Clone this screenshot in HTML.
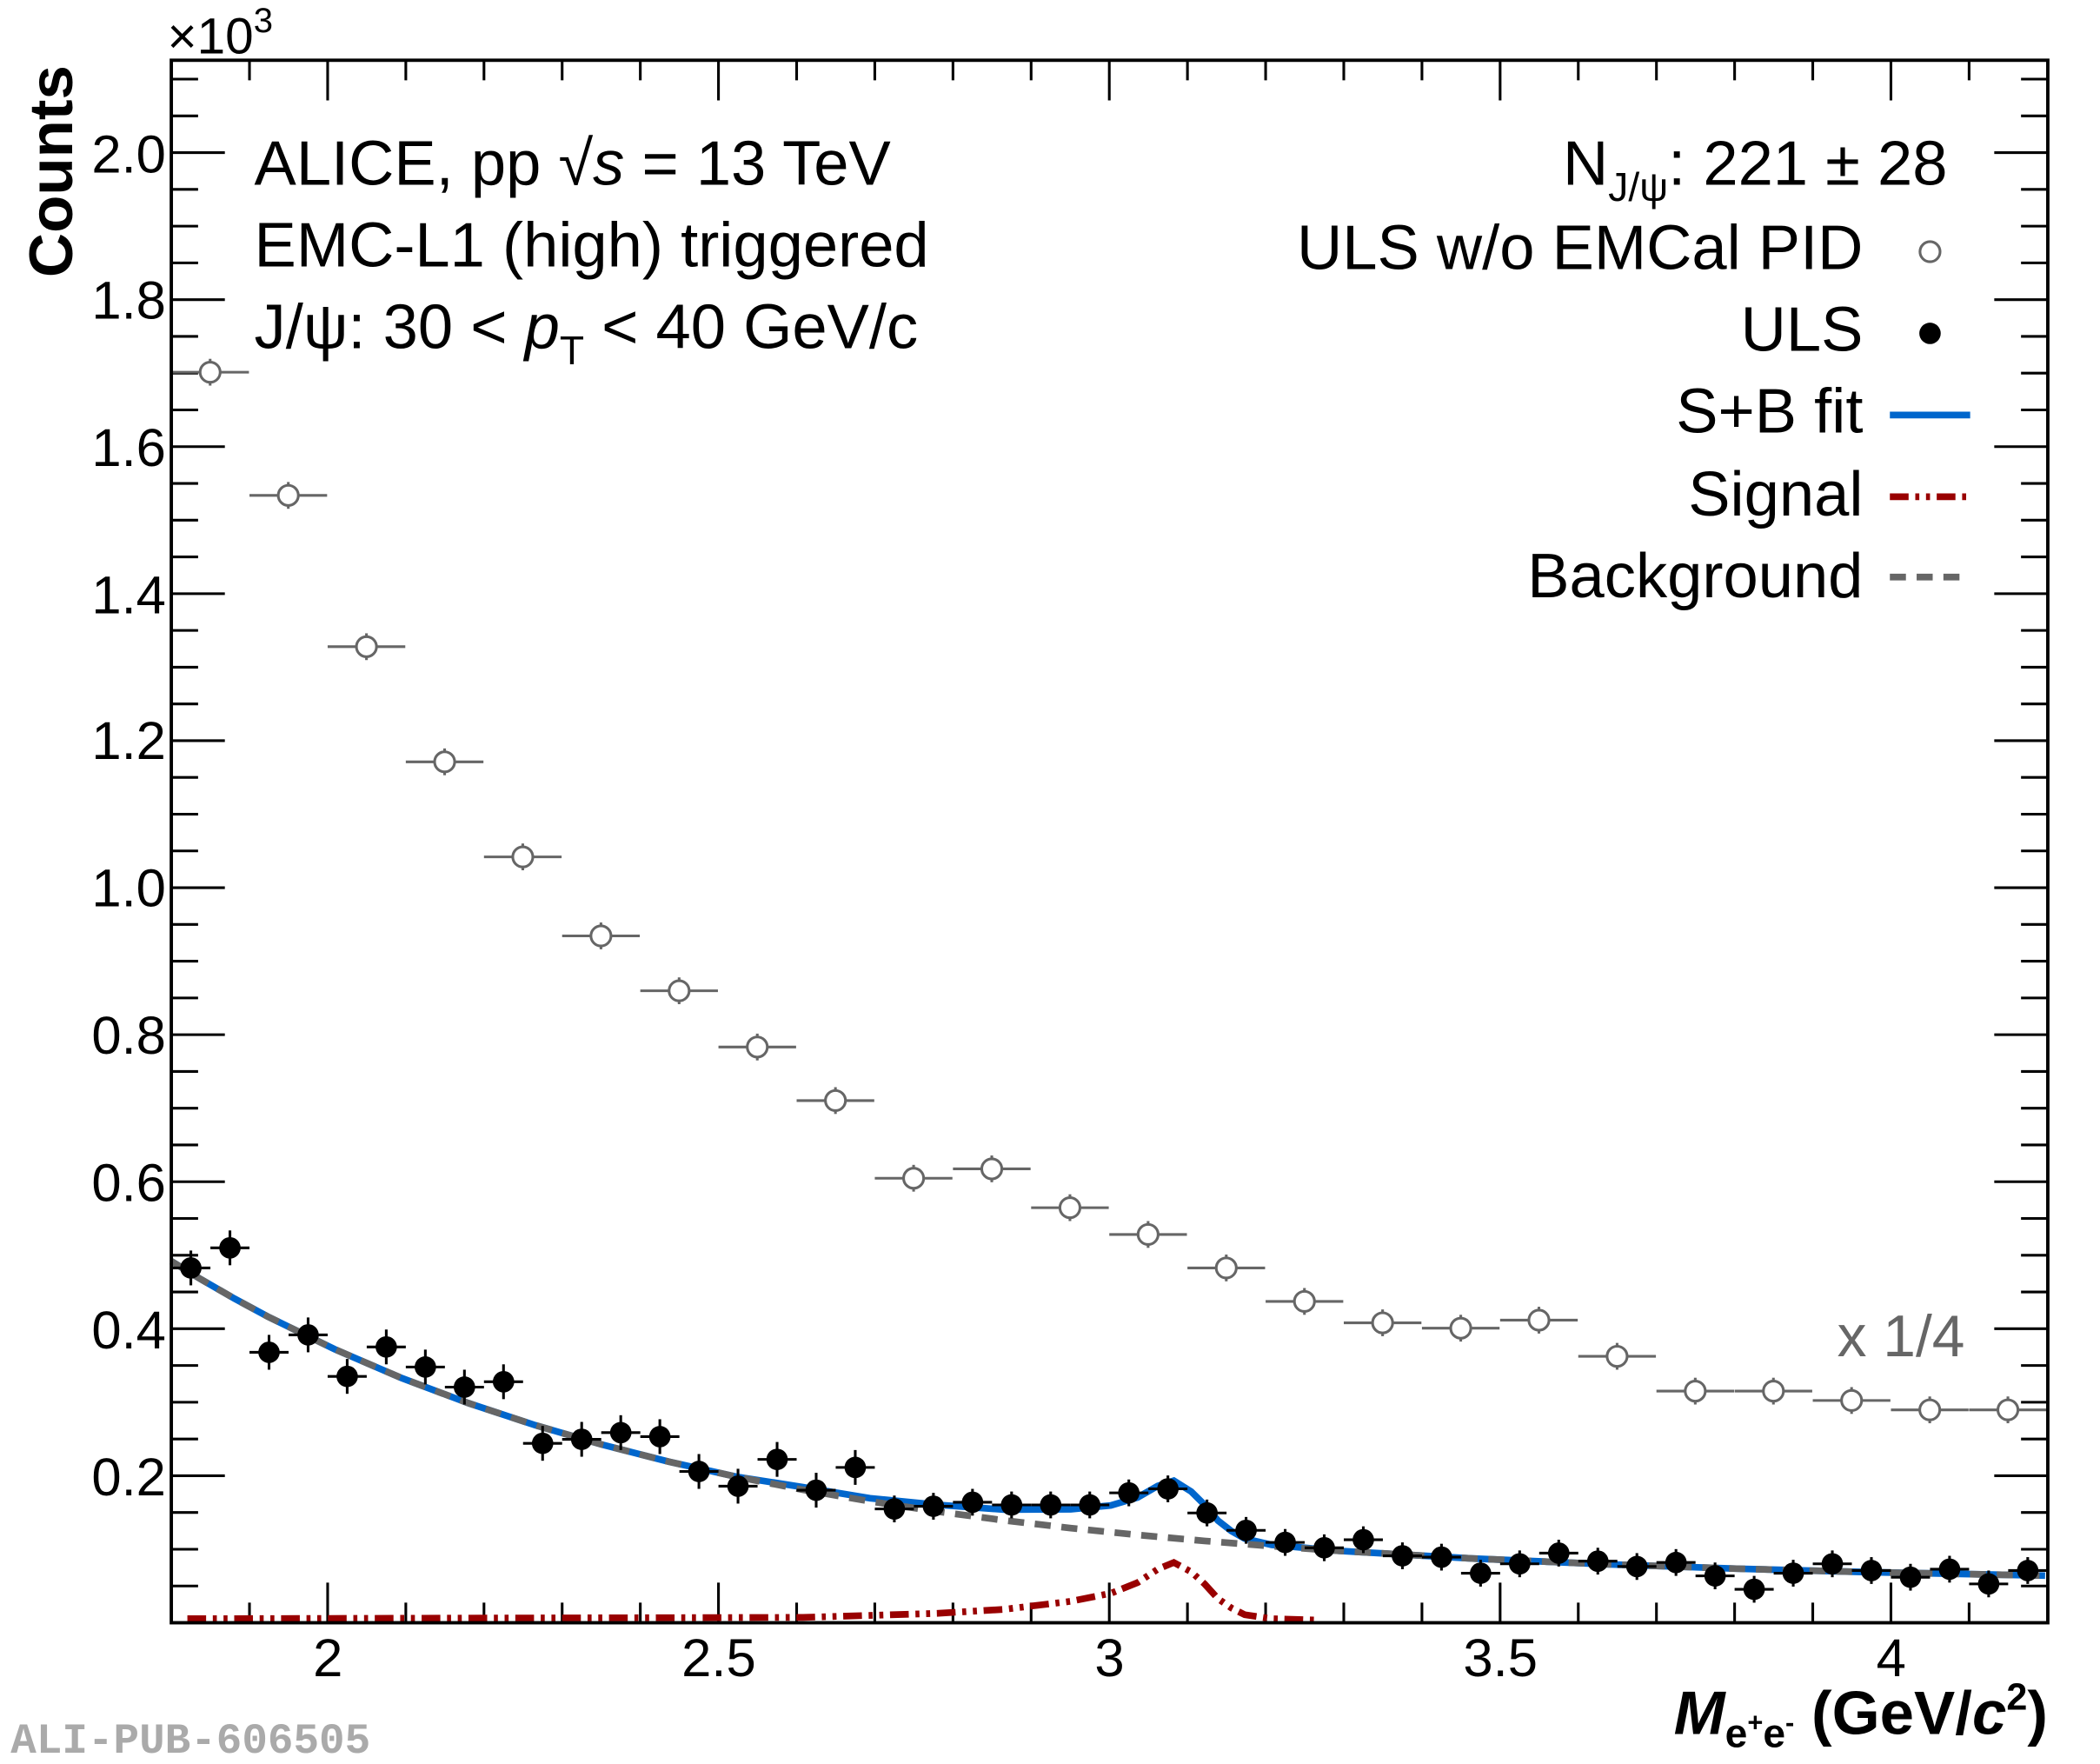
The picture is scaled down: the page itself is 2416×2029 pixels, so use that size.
<!DOCTYPE html>
<html><head><meta charset="utf-8"><style>html,body{margin:0;padding:0;background:#fff}svg{display:block}</style></head>
<body>
<svg width="2416" height="2029" viewBox="0 0 1569 1317.5" preserveAspectRatio="none" xmlns="http://www.w3.org/2000/svg" xmlns:xlink="http://www.w3.org/1999/xlink" font-family="Liberation Sans, sans-serif">
<defs>
<g id="ho"><line x1="-29" y1="0" x2="29" y2="0" stroke="#666" stroke-width="2"/><line x1="0" y1="-10" x2="0" y2="10" stroke="#666" stroke-width="2"/><circle r="7.5" fill="#fff" stroke="#666" stroke-width="2"/></g>
<g id="bk"><line x1="-14.6" y1="0" x2="14.6" y2="0" stroke="#000" stroke-width="2"/><line x1="0" y1="-13" x2="0" y2="13" stroke="#000" stroke-width="2"/><circle r="8" fill="#000"/></g>
<g id="bk2"><line x1="-14.6" y1="0" x2="14.6" y2="0" stroke="#000" stroke-width="2"/><line x1="0" y1="-10" x2="0" y2="10" stroke="#000" stroke-width="2"/><circle r="8" fill="#000"/></g>
</defs>
<rect x="0" y="0" width="1569" height="1317.5" fill="#fff"/>
<path stroke="#000" stroke-width="2" fill="none" d="
M186.4,1212v-15M244.8,1212v-30M303.2,1212v-15M361.6,1212v-15M420,1212v-15M478.4,1212v-15M536.8,1212v-30M595.2,1212v-15M653.6,1212v-15M712,1212v-15M770.4,1212v-15M828.8,1212v-30M887.2,1212v-15M945.6,1212v-15M1004,1212v-15M1062.4,1212v-15M1120.8,1212v-30M1179.2,1212v-15M1237.6,1212v-15M1296,1212v-15M1354.4,1212v-15M1412.8,1212v-30M1471.2,1212v-15
M186.4,45v15M244.8,45v30M303.2,45v15M361.6,45v15M420,45v15M478.4,45v15M536.8,45v30M595.2,45v15M653.6,45v15M712,45v15M770.4,45v15M828.8,45v30M887.2,45v15M945.6,45v15M1004,45v15M1062.4,45v15M1120.8,45v30M1179.2,45v15M1237.6,45v15M1296,45v15M1354.4,45v15M1412.8,45v30M1471.2,45v15
M128,1184.55h20M128,1157.1h20M128,1129.65h20M128,1102.2h40M128,1074.75h20M128,1047.3h20M128,1019.85h20M128,992.4h40M128,964.95h20M128,937.5h20M128,910.05h20M128,882.6h40M128,855.15h20M128,827.7h20M128,800.25h20M128,772.8h40M128,745.35h20M128,717.9h20M128,690.45h20M128,663h40M128,635.55h20M128,608.1h20M128,580.65h20M128,553.2h40M128,525.75h20M128,498.3h20M128,470.85h20M128,443.4h40M128,415.95h20M128,388.5h20M128,361.05h20M128,333.6h40M128,306.15h20M128,278.7h20M128,251.25h20M128,223.8h40M128,196.35h20M128,168.9h20M128,141.45h20M128,114h40M128,86.55h20M128,59.1h20
M1530,1184.55h-20M1530,1157.1h-20M1530,1129.65h-20M1530,1102.2h-40M1530,1074.75h-20M1530,1047.3h-20M1530,1019.85h-20M1530,992.4h-40M1530,964.95h-20M1530,937.5h-20M1530,910.05h-20M1530,882.6h-40M1530,855.15h-20M1530,827.7h-20M1530,800.25h-20M1530,772.8h-40M1530,745.35h-20M1530,717.9h-20M1530,690.45h-20M1530,663h-40M1530,635.55h-20M1530,608.1h-20M1530,580.65h-20M1530,553.2h-40M1530,525.75h-20M1530,498.3h-20M1530,470.85h-20M1530,443.4h-40M1530,415.95h-20M1530,388.5h-20M1530,361.05h-20M1530,333.6h-40M1530,306.15h-20M1530,278.7h-20M1530,251.25h-20M1530,223.8h-40M1530,196.35h-20M1530,168.9h-20M1530,141.45h-20M1530,114h-40M1530,86.55h-20M1530,59.1h-20"/>
<path fill="none" stroke="#0066cc" stroke-width="5" d="M128,942L150,955.4L175,969.8L200,983.3L250,1007.7L300,1029.2L350,1048L400,1064.5L450,1079L500,1091.8L550,1102.9L600,1110.7L650,1119L700,1123.9L750,1127.5L800,1127.3L830,1124.4L850,1118.4L865,1109.8L877,1105.9L890,1114L900,1123.9L910,1135.7L920,1143.5L930,1149.2L950,1153.8L1000,1158.3L1100,1164L1200,1168.3L1300,1171.7L1400,1174.3L1528,1176.8"/>
<path fill="none" stroke="#666" stroke-width="5" stroke-dasharray="12,8" d="M128,942L150,955.4L175,969.8L200,983.3L250,1007.7L300,1029.2L350,1048L400,1064.5L450,1079L500,1091.8L550,1102.9L600,1112.7L650,1121.3L700,1128.9L750,1135.5L800,1141.3L850,1146.4L900,1150.9L950,1154.8L1000,1158.3L1100,1164L1200,1168.3L1300,1171.7L1400,1174.3L1528,1176.8"/>
<path fill="none" stroke="#990000" stroke-width="5" stroke-dasharray="14,5,3,5,3,5" d="M140,1209L600,1208L700,1205L750,1202L800,1196L830,1190L850,1182L865,1172L877,1167L890,1174L900,1183L910,1194L920,1201L930,1206L950,1209L985,1210"/>
<use xlink:href="#ho" href="#ho" x="157" y="278"/><use xlink:href="#ho" href="#ho" x="215.4" y="370"/><use xlink:href="#ho" href="#ho" x="273.8" y="483"/><use xlink:href="#ho" href="#ho" x="332.2" y="569"/><use xlink:href="#ho" href="#ho" x="390.6" y="640"/><use xlink:href="#ho" href="#ho" x="449" y="699"/><use xlink:href="#ho" href="#ho" x="507.4" y="740"/><use xlink:href="#ho" href="#ho" x="565.8" y="782"/><use xlink:href="#ho" href="#ho" x="624.2" y="822"/><use xlink:href="#ho" href="#ho" x="682.6" y="880"/><use xlink:href="#ho" href="#ho" x="741" y="873"/><use xlink:href="#ho" href="#ho" x="799.4" y="902"/><use xlink:href="#ho" href="#ho" x="857.8" y="922"/><use xlink:href="#ho" href="#ho" x="916.2" y="947"/><use xlink:href="#ho" href="#ho" x="974.6" y="972"/><use xlink:href="#ho" href="#ho" x="1033" y="988"/><use xlink:href="#ho" href="#ho" x="1091.4" y="992"/><use xlink:href="#ho" href="#ho" x="1149.8" y="986"/><use xlink:href="#ho" href="#ho" x="1208.2" y="1013"/><use xlink:href="#ho" href="#ho" x="1266.6" y="1039"/><use xlink:href="#ho" href="#ho" x="1325" y="1039"/><use xlink:href="#ho" href="#ho" x="1383.4" y="1046"/><use xlink:href="#ho" href="#ho" x="1441.8" y="1053"/><use xlink:href="#ho" href="#ho" x="1500.2" y="1053"/>
<use href="#bk" x="142.6" y="947"/><use href="#bk" x="171.8" y="932"/><use href="#bk" x="201" y="1010"/><use href="#bk" x="230.2" y="997"/><use href="#bk" x="259.4" y="1028"/><use href="#bk" x="288.6" y="1006"/><use href="#bk" x="317.8" y="1021"/><use href="#bk" x="347" y="1036"/><use href="#bk" x="376.2" y="1032"/><use href="#bk" x="405.4" y="1078"/><use href="#bk" x="434.6" y="1075"/><use href="#bk" x="463.8" y="1070"/><use href="#bk" x="493" y="1073"/><use href="#bk" x="522.2" y="1099"/><use href="#bk" x="551.4" y="1110"/><use href="#bk" x="580.6" y="1090"/><use href="#bk" x="609.8" y="1113"/><use href="#bk" x="639" y="1096"/><use href="#bk2" x="668.2" y="1127"/><use href="#bk2" x="697.4" y="1125"/><use href="#bk2" x="726.6" y="1122"/><use href="#bk2" x="755.8" y="1124"/><use href="#bk2" x="785" y="1124"/><use href="#bk2" x="814.2" y="1124"/><use href="#bk2" x="843.4" y="1115"/><use href="#bk2" x="872.6" y="1112"/><use href="#bk2" x="901.8" y="1130"/><use href="#bk2" x="931" y="1143"/><use href="#bk2" x="960.2" y="1152"/><use href="#bk2" x="989.4" y="1156"/><use href="#bk2" x="1018.6" y="1150"/><use href="#bk2" x="1047.8" y="1162"/><use href="#bk2" x="1077" y="1163"/><use href="#bk2" x="1106.2" y="1175"/><use href="#bk2" x="1135.4" y="1168"/><use href="#bk2" x="1164.6" y="1160"/><use href="#bk2" x="1193.8" y="1166"/><use href="#bk2" x="1223" y="1170"/><use href="#bk2" x="1252.2" y="1167"/><use href="#bk2" x="1281.4" y="1177"/><use href="#bk2" x="1310.6" y="1187"/><use href="#bk2" x="1339.8" y="1175"/><use href="#bk2" x="1369" y="1168"/><use href="#bk2" x="1398.2" y="1173"/><use href="#bk2" x="1427.4" y="1178"/><use href="#bk2" x="1456.6" y="1172"/><use href="#bk2" x="1485.8" y="1183"/><use href="#bk2" x="1515" y="1173"/>
<rect x="128" y="45" width="1402" height="1167" fill="none" stroke="#000" stroke-width="2.5"/>
<g font-size="40" text-anchor="middle">
<text x="245" y="1252">2</text><text x="537" y="1252">2.5</text><text x="829" y="1252">3</text><text x="1121" y="1252">3.5</text><text x="1413" y="1252">4</text>
</g>
<g font-size="40" text-anchor="end">
<text x="124" y="1117">0.2</text><text x="124" y="1007">0.4</text><text x="124" y="897">0.6</text><text x="124" y="787">0.8</text><text x="124" y="677">1.0</text><text x="124" y="567">1.2</text><text x="124" y="458">1.4</text><text x="124" y="348">1.6</text><text x="124" y="238">1.8</text><text x="124" y="129">2.0</text>
</g>
<text x="125" y="40" font-size="38">×10<tspan font-size="26" dy="-16">3</tspan></text>
<text transform="translate(54,128) rotate(-90)" font-size="46" font-weight="bold" text-anchor="middle">Counts</text>
<text x="1530" y="1295" font-size="46" font-weight="bold" text-anchor="end"><tspan font-style="italic">M</tspan><tspan font-size="30" dy="10">e</tspan><tspan font-size="20" dy="-12">+</tspan><tspan font-size="30" dy="12">e</tspan><tspan font-size="20" dy="-12">-</tspan><tspan dy="2"> (GeV/</tspan><tspan font-style="italic">c</tspan><tspan font-size="28" dy="-18">2</tspan><tspan dy="18">)</tspan></text>
<text x="8" y="1309" font-size="32" font-weight="bold" fill="#aaa" font-family="Liberation Mono, monospace">ALI-PUB-606505</text>
<g font-size="47">
<text x="190" y="138">ALICE, pp  √<tspan font-style="italic">s</tspan> = 13 TeV</text>
<text x="190" y="199">EMC-L1 (high) triggered</text>
<text x="190" y="260">J/ψ: 30 &lt; <tspan font-style="italic">p</tspan><tspan font-size="30" dy="12">T</tspan><tspan dy="-12"> &lt; 40 GeV/c</tspan></text>
</g>
<g font-size="47" text-anchor="end">
<text x="1455" y="138">N<tspan font-size="30" dy="12">J/ψ</tspan><tspan dy="-12">: 221 ± 28</tspan></text>
<text x="1392" y="201">ULS w/o EMCal PID</text>
<text x="1392" y="262">ULS</text>
<text x="1392" y="323">S+B fit</text>
<text x="1392" y="385">Signal</text>
<text x="1392" y="446">Background</text>
</g>
<circle cx="1442" cy="188" r="7.5" fill="#fff" stroke="#666" stroke-width="2"/>
<circle cx="1442" cy="249" r="8" fill="#000"/>
<line x1="1412" y1="310" x2="1472" y2="310" stroke="#0066cc" stroke-width="5"/>
<line x1="1412" y1="371" x2="1472" y2="371" stroke="#990000" stroke-width="5" stroke-dasharray="14,5,3,5,3,5"/>
<line x1="1412" y1="431" x2="1472" y2="431" stroke="#666" stroke-width="5" stroke-dasharray="12,8"/>
<text x="1468" y="1013" font-size="44" fill="#666" text-anchor="end">x 1/4</text>
</svg>
</body></html>
